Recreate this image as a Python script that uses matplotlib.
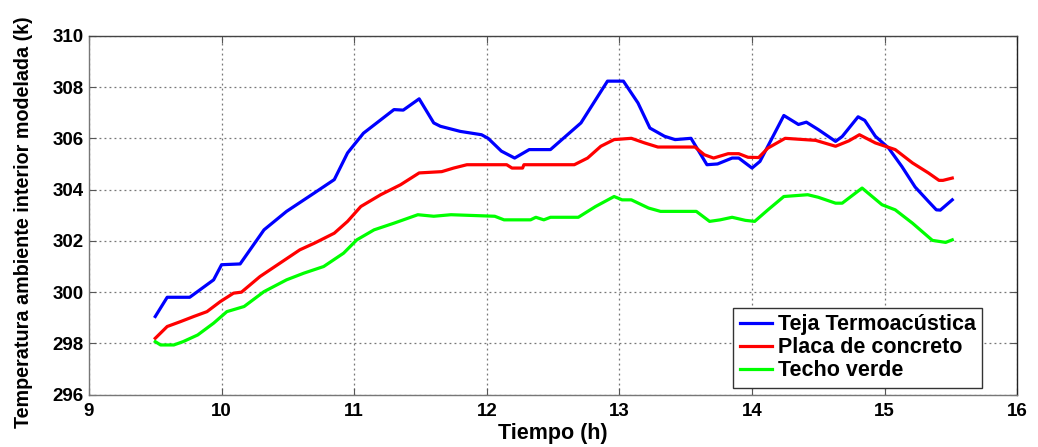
import matplotlib
matplotlib.use('Agg')
import matplotlib.pyplot as plt

# ── data ─────────────────────────────────────────────────────
t_teja = [9.50, 9.59, 9.76, 9.94, 10.00, 10.14, 10.32, 10.49, 10.70, 10.85, 10.95, 11.07,
          11.30, 11.37, 11.49, 11.60, 11.65, 11.80, 11.96, 12.01, 12.11, 12.21, 12.32, 12.48,
          12.71, 12.91, 13.03, 13.14, 13.23, 13.34, 13.42, 13.54, 13.66, 13.74, 13.85, 13.90,
          14.00, 14.06, 14.24, 14.35, 14.41, 14.50, 14.63, 14.68, 14.80, 14.85, 14.93, 15.03,
          15.13, 15.23, 15.33, 15.39, 15.42, 15.51]
teja = [299.05, 299.8, 299.8, 300.48, 301.07, 301.1, 302.43, 303.15, 303.87, 304.39, 305.43, 306.2,
        307.12, 307.1, 307.54, 306.6, 306.47, 306.27, 306.14, 306.0, 305.5, 305.23, 305.56, 305.56,
        306.6, 308.23, 308.23, 307.38, 306.4, 306.08, 305.95, 306.0, 304.97, 305.0, 305.23, 305.23,
        304.84, 305.1, 306.89, 306.54, 306.63, 306.34, 305.88, 306.07, 306.84, 306.7, 306.08, 305.62,
        304.9, 304.1, 303.54, 303.21, 303.2, 303.6]

t_placa = [9.50, 9.59, 9.69, 9.79, 9.89, 9.99, 10.09, 10.15, 10.29, 10.44, 10.59, 10.70, 10.85,
           10.95, 11.05, 11.20, 11.35, 11.49, 11.66, 11.75, 11.85, 12.15, 12.19, 12.27, 12.28,
           12.66, 12.76, 12.86, 12.96, 13.09, 13.19, 13.29, 13.57, 13.64, 13.71, 13.82, 13.90,
           13.97, 14.05, 14.12, 14.25, 14.48, 14.63, 14.73, 14.81, 14.93, 15.08, 15.21, 15.33,
           15.41, 15.44, 15.51]
placa = [298.2, 298.66, 298.85, 299.05, 299.24, 299.63, 299.96, 300.0, 300.61, 301.13, 301.65, 301.91, 302.3,
         302.76, 303.34, 303.8, 304.19, 304.65, 304.7, 304.84, 304.97, 304.97, 304.84, 304.84, 304.97,
         304.97, 305.23, 305.69, 305.95, 306.0, 305.82, 305.66, 305.66, 305.36, 305.23, 305.4, 305.4,
         305.26, 305.25, 305.62, 306.0, 305.92, 305.69, 305.9, 306.14, 305.82, 305.56, 305.04, 304.65,
         304.36, 304.36, 304.45]

t_verde = [9.50, 9.54, 9.64, 9.71, 9.82, 9.94, 10.04, 10.17, 10.32, 10.49, 10.62, 10.77, 10.92,
           11.02, 11.15, 11.30, 11.48, 11.60, 11.73, 12.06, 12.13, 12.33, 12.37, 12.43, 12.48,
           12.69, 12.82, 12.96, 13.02, 13.09, 13.22, 13.31, 13.58, 13.68, 13.76, 13.85, 13.95,
           14.02, 14.12, 14.24, 14.42, 14.50, 14.63, 14.68, 14.83, 14.98, 15.08, 15.21, 15.36,
           15.46, 15.51]
verde = [298.07, 297.94, 297.94, 298.07, 298.33, 298.79, 299.24, 299.44, 300.02, 300.48, 300.74, 301.0, 301.52,
         302.04, 302.43, 302.69, 303.02, 302.96, 303.02, 302.96, 302.82, 302.82, 302.92, 302.82, 302.92,
         302.92, 303.34, 303.73, 303.6, 303.6, 303.28, 303.15, 303.15, 302.76, 302.82, 302.92, 302.8,
         302.76, 303.21, 303.73, 303.8, 303.7, 303.47, 303.47, 304.06, 303.41, 303.21, 302.69, 302.02,
         301.94, 302.04]

series_names = ["Teja Termoacústica", "Placa de concreto", "Techo verde"]
x_ticks = [9, 10, 11, 12, 13, 14, 15, 16]
y_ticks = [296, 298, 300, 302, 304, 306, 308, 310]

FONT = "Liberation Sans"

fig = plt.figure(figsize=(10.38, 4.47), dpi=100)
ax = fig.add_axes([0.0857, 0.117, 0.8943, 0.803])

ax.plot(t_teja, teja, color="#0000FF", linewidth=2.3, label=series_names[0])
ax.plot(t_placa, placa, color="#FF0000", linewidth=2.3, label=series_names[1])
ax.plot(t_verde, verde, color="#00FF00", linewidth=2.3, label=series_names[2])

ax.set_xlim(9, 16); ax.set_ylim(296, 310)
ax.set_xticks(x_ticks); ax.set_yticks(y_ticks)
ax.set_xticklabels([str(v) for v in x_ticks], fontfamily=FONT, fontsize=13.5, fontweight="bold")
ax.set_yticklabels([str(v) for v in y_ticks], fontfamily=FONT, fontsize=13.5, fontweight="bold")
ax.tick_params(direction="in", top=True, right=True, length=5, color="#555555")
ax.tick_params(axis="x", pad=6)
ax.tick_params(axis="y", pad=4)
ax.grid(True, linestyle=(0, (1.5, 2.5)), color="#777777", linewidth=0.9)
for s in ax.spines.values():
    s.set_color("#777777"); s.set_linewidth(1.0)
ax.spines["right"].set_color("#222222"); ax.spines["top"].set_color("#444444")

ax.set_xlabel("Tiempo (h)", fontfamily=FONT, fontsize=15.5, fontweight="bold", labelpad=2)
ax.set_ylabel("Temperatura ambiente interior modelada (k)", fontfamily=FONT,
              fontsize=14.2, fontweight="bold")
ax.yaxis.set_label_coords(-0.060, 0.48)

leg = ax.legend(loc="lower right", bbox_to_anchor=(0.962, 0.019), fancybox=False, framealpha=1,
                edgecolor="#333333", handlelength=1.5, handletextpad=0.25, borderpad=0.3,
                borderaxespad=0, labelspacing=0.1,
                prop={"family": FONT, "weight": "bold", "size": 15.5})
leg.get_frame().set_linewidth(1.0)

plt.savefig("out.png", dpi=100)
plt.close()
